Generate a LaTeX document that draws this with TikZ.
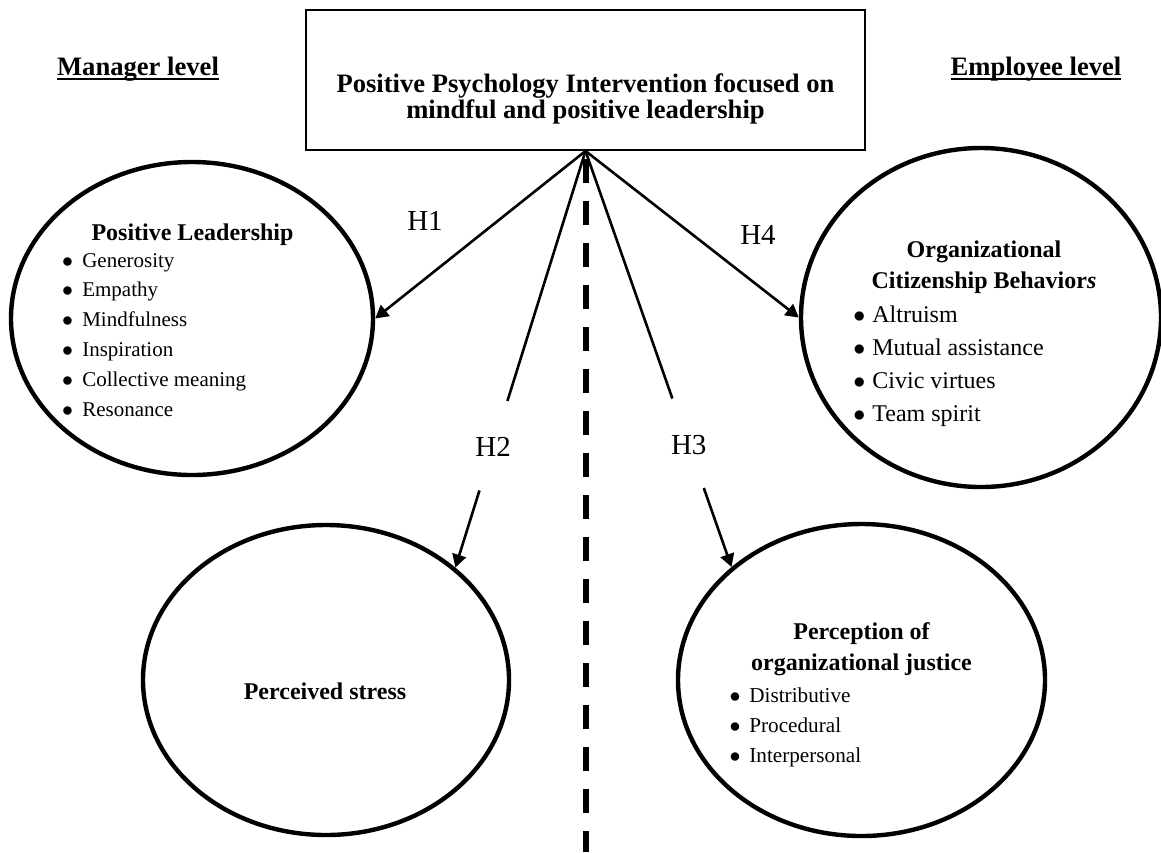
\documentclass[tikz,border=0pt]{standalone}
\usepackage{fontspec}
\setmainfont{Liberation Serif}
\usetikzlibrary{shapes.geometric,arrows.meta,calc}
\tikzset{
  oval/.style={ellipse,draw,line width=2.2pt,inner sep=0pt},
  ppibox/.style={draw,line width=1pt,minimum width=279.5pt,minimum height=70pt},
  bigtext/.style={anchor=base,inner sep=0pt,font=\fontsize{13.3}{16}\selectfont\bfseries},
  heading/.style={anchor=base,inner sep=0pt,font=\fontsize{12}{14}\selectfont\bfseries},
  hyp/.style={font=\fontsize{14.5}{17}\selectfont,inner sep=1pt},
  bul/.style={anchor=base west,inner sep=0pt},
  link/.style={line width=1.3pt},
  hyparrow/.style={link,-{Triangle[length=6.5pt,width=7pt]}},
  divider/.style={line width=3pt,dash pattern=on 12pt off 9pt,dash phase=17pt},
}
\def\bsize#1{\fontsize{#1}{#1}\selectfont}
\def\levelline#1{\setbox0\hbox{#1}\rlap{\rule[-2.5pt]{\wd0}{1.2pt}}\box0}

\begin{document}
\begin{tikzpicture}[x=0.5pt,y=-0.5pt]
\useasboundingbox (0,0) rectangle (1161,852);

% levels
\node[bigtext] (mgr) at (138,75) {\levelline{Manager level}};
\node[bigtext] (emp) at (1036,75) {\levelline{Employee level}};

% intervention
\node[ppibox] (ppi) at (585.5,80) {};
\node[bigtext] (ppi-a) at (585.5,92) {Positive Psychology Intervention focused on};
\node[bigtext] (ppi-b) at (585.5,118.5) {mindful and positive leadership};

% the four outcomes
\node[oval,minimum width=181pt,minimum height=156.5pt] (lead) at (192,318.5) {};
\node[oval,minimum width=180pt,minimum height=169.5pt] (ocb) at (981,317.5) {};
\node[oval,minimum width=183pt,minimum height=155pt] (stress) at (326,680) {};
\node[oval,minimum width=183.5pt,minimum height=156pt] (just) at (861.5,680) {};

\node[heading] (lead-h) at (192.5,240) {Positive Leadership};
\foreach \txt [count=\i] in {Generosity,Empathy,Mindfulness,Inspiration,Collective meaning,Resonance}
  \node[bul,font=\bsize{10.5}] (lead-\i) at (61.75,237.2+29.8*\i) {$\bullet$\hspace{4.6pt}\txt};

\node[heading] (ocb-h1) at (984,257) {Organizational};
\node[heading] (ocb-h2) at (984,288) {Citizenship Behavior\textit{s}};
\foreach \txt [count=\i] in {Altruism,Mutual assistance,Civic virtues,Team spirit}
  \node[bul,font=\bsize{12}] (ocb-\i) at (853,288.7+33.3*\i) {$\bullet$\hspace{3.5pt}\txt};

\node[heading] (stress-h) at (325,699) {Perceived stress};

\node[heading] (just-h1) at (861.5,639) {Perception of};
\node[heading] (just-h2) at (861.5,670) {organizational justice};
\foreach \txt [count=\i] in {Distributive,Procedural,Interpersonal}
  \node[bul,font=\bsize{10.6}] (just-\i) at (729.1,672+30*\i) {$\bullet$\hspace{4.45pt}\txt};

% divide between the two levels
\coordinate (divend) at (585.5,852);
\draw[divider] (ppi.south) -- (divend);

% hypotheses
\draw[hyparrow] (ppi.south) -- (lead.east);
\draw[hyparrow] (ppi.south) -- (ocb.west);
\node[hyp] (h1) at (425,221) {H1};
\node[hyp] (h4) at (758,234.5) {H4};

\draw[link] (ppi.south) -- ($(ppi.south)!0.6!(stress.41)$);
\draw[hyparrow] ($(ppi.south)!0.815!(stress.41)$) -- (stress.41);
\path (ppi.south) -- node[hyp,pos=0.71] (h2) {H2} (stress.41);

\draw[link] (ppi.south) -- ($(ppi.south)!0.595!(just.139)$);
\draw[hyparrow] ($(ppi.south)!0.81!(just.139)$) -- (just.139);
\path (ppi.south) -- node[hyp,pos=0.707] (h3) {H3} (just.139);
\end{tikzpicture}
\end{document}
